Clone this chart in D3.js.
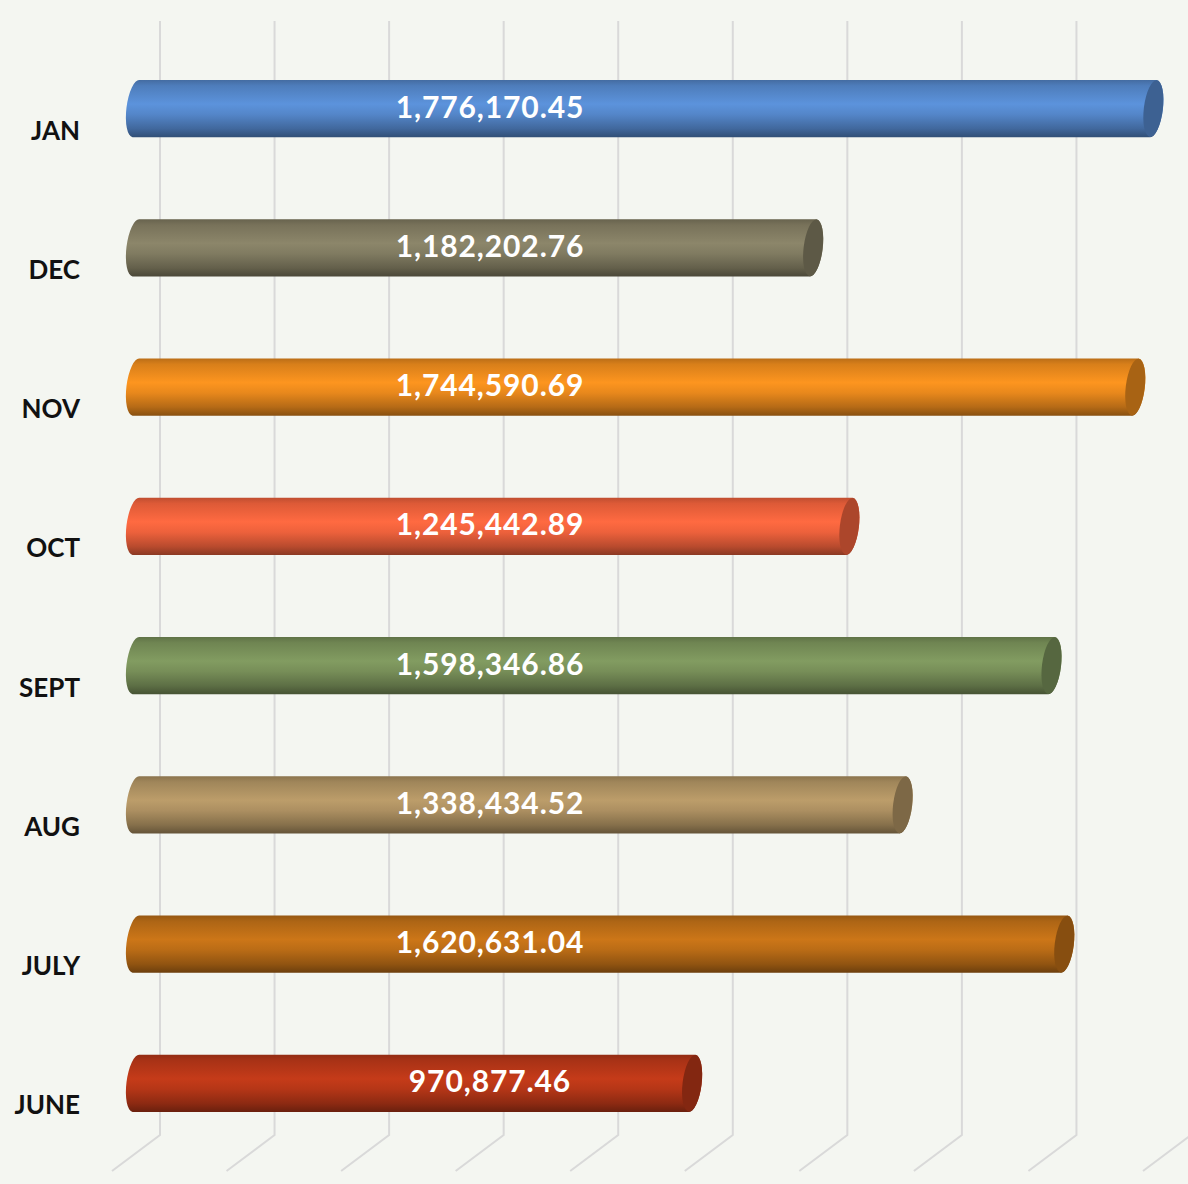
<!DOCTYPE html>
<html>
<head>
<meta charset="utf-8">
<script src="https://cdn.jsdelivr.net/npm/d3@7"></script>
<style>
  html, body { margin: 0; padding: 0; background: #f4f6f1; }
  svg { display: block; }
  .cat-label { font-family: Lato, "Open Sans", sans-serif; font-weight: 700; font-size: 26px; fill: #111; }
  .val-label { font-family: Lato, "Open Sans", sans-serif; font-weight: 700; font-size: 30px; fill: #fff; letter-spacing: 0.9px; }
</style>
</head>
<body>
<div id="chart"></div>
<script>
const months = ["JAN", "DEC", "NOV", "OCT", "SEPT", "AUG", "JULY", "JUNE"]
const amounts = [1776170.45, 1182202.76, 1744590.69, 1245442.89, 1598346.86, 1338434.52, 1620631.04, 970877.46]
const barColors = ["#5a90d8", "#8a8468", "#f9921e", "#ff6840", "#80995f", "#b99a68", "#c87418", "#c23a19"]
const axisMax = 1800000

let width = 1188, height = 1184
let wallTop = 21, wallBottom = 1135
let depth = [-48, 36] // back wall -> front floor offset
let fmt = d3.format(",.2f")

let svg = d3.select("#chart").append("svg")
    .attr("width", width)
    .attr("height", height)

svg.append("rect").attr("width", width).attr("height", height).attr("fill", "#f4f6f1")

let x = d3.scaleLinear().domain([0, axisMax]).range([160, 1191])
let y = d3.scaleBand().domain(months).range([wallTop, wallBottom])

// grid on back wall + floor
svg.append("g").selectAll("path")
    .data(x.ticks(9))
    .join("path")
        .attr("d", d => `M${x(d)} ${wallTop} L${x(d)} ${wallBottom} L${x(d) + depth[0]} ${wallBottom + depth[1]}`)
        .attr("fill", "none")
        .attr("stroke", "#d9d9d9")
        .attr("stroke-width", 2)

// gradients
let defs = svg.append("defs")
months.forEach((m, i) => {
    let c = d3.color(barColors[i])
    let g = defs.append("linearGradient")
        .attr("id", "grad" + i)
        .attr("x1", 0).attr("y1", 0).attr("x2", 0).attr("y2", 1)
    let stops = [
        [0, c.darker(0.8)],
        [0.1, c.darker(0.4)],
        [0.42, c.brighter(0.05)],
        [0.6, c.darker(0.2)],
        [0.85, c.darker(0.9)],
        [1, c.darker(1.7)]
    ]
    stops.forEach(s => g.append("stop").attr("offset", s[0]).attr("stop-color", s[1]))
})

let half = y.bandwidth() * 0.205
let rx = 9.5
let tilt = 7 * Math.PI / 180
let dx = half * Math.sin(tilt)
let ry = half

function barCenter(m) { return y(m) + y.bandwidth() / 2 + depth[1] / 2 }

let bars = svg.append("g").selectAll("g")
    .data(months.map((m, i) => ({month: m, value: amounts[i], i: i})))
    .join("g")

bars.append("path")
    .attr("d", d => {
        let cy = barCenter(d.month)
        let x0 = x(0) + depth[0] / 2
        let x1 = x(d.value) + depth[0] / 2
        return `M${x0 + dx} ${cy - half} L${x1 + dx} ${cy - half} ` +
            `A${rx} ${ry} 7 0 1 ${x1 - dx} ${cy + half} L${x0 - dx} ${cy + half} ` +
            `A${rx} ${ry} 7 0 1 ${x0 + dx} ${cy - half} Z`
    })
    .attr("fill", d => `url(#grad${d.i})`)

bars.append("ellipse")
    .attr("cx", 0).attr("cy", 0)
    .attr("rx", rx).attr("ry", ry)
    .attr("transform", d => `translate(${x(d.value) + depth[0] / 2}, ${barCenter(d.month)}) rotate(7)`)
    .attr("fill", d => d3.color(barColors[d.i]).darker(1.1))

bars.append("text")
    .attr("class", "val-label")
    .attr("x", 490)
    .attr("y", d => barCenter(d.month) + 9)
    .attr("text-anchor", "middle")
    .text(d => fmt(d.value))

svg.append("g").selectAll("text")
    .data(months)
    .join("text")
        .attr("class", "cat-label")
        .attr("x", 80)
        .attr("y", d => y(d) + y.bandwidth() / 2 + 49)
        .attr("text-anchor", "end")
        .text(d => d)
</script>
</body>
</html>
